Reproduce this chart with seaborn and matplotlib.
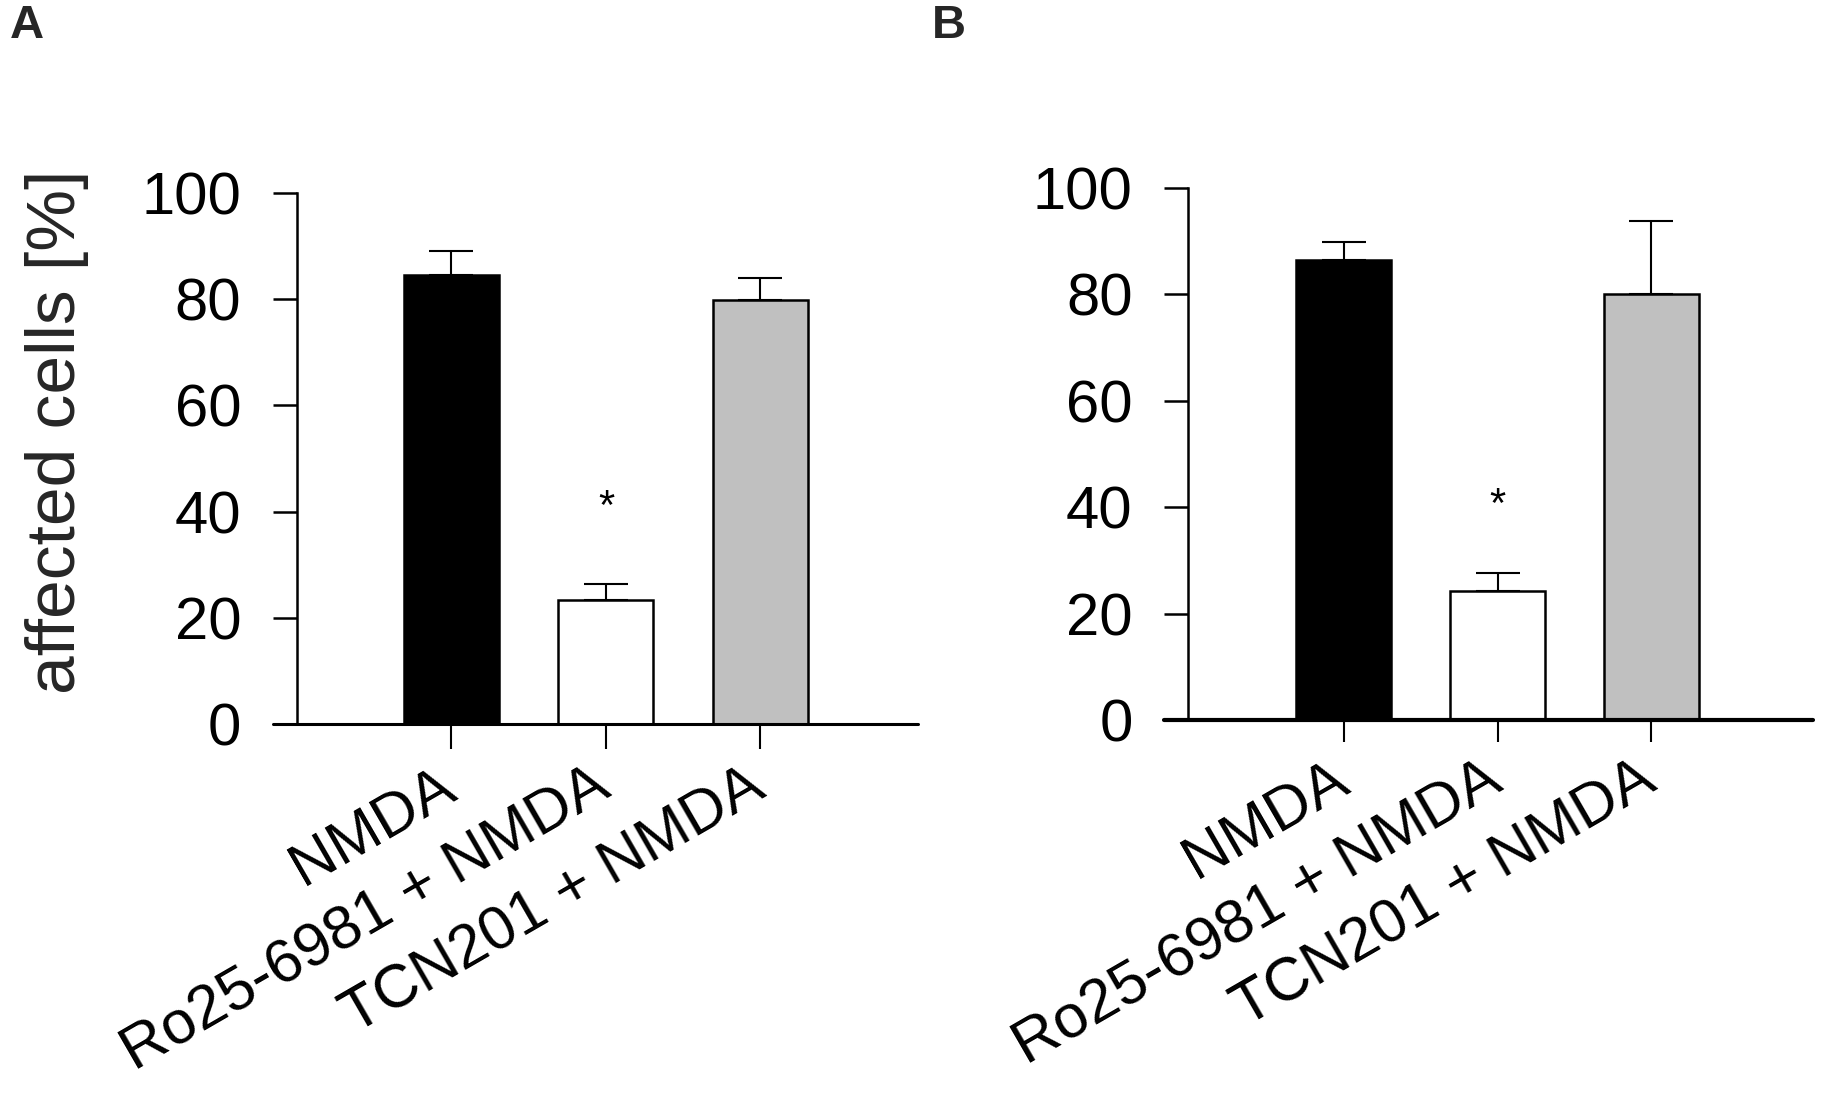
import matplotlib
matplotlib.use("Agg")
import matplotlib.pyplot as plt
import seaborn as sns
import pandas as pd
import numpy as np

# ---- data ----
categories = ["NMDA", "Ro25-6981 + NMDA", "TCN201 + NMDA"]
bar_colors = ["#000000", "#FFFFFF", "#C0C0C0"]

means_a = [84.6, 23.4, 79.9]
sem_a = [4.4, 2.9, 4.0]
star_a = 42.2

means_b = [86.4, 24.2, 80.1]
sem_b = [3.4, 3.5, 13.7]
star_b = 41.8

yticks = [0, 20, 40, 60, 80, 100]

sns.set_theme(style="ticks")
plt.rcParams["font.family"] = ["Liberation Sans", "DejaVu Sans"]

fig = plt.figure(figsize=(18.25, 11.02), dpi=100)
axA = fig.add_axes([0.1627, 0.343, 0.3403, 0.4819])
axB = fig.add_axes([0.651, 0.3466, 0.3425, 0.4828])


def panel(ax, means, errs, star_y, xlim, axis_lw, xtick_len):
    df = pd.DataFrame({"cond": categories, "val": means})
    sns.barplot(data=df, x="cond", y="val", hue="cond", order=categories,
                hue_order=categories, palette=bar_colors, saturation=1,
                width=0.615, edgecolor="black", linewidth=1.8,
                legend=False, errorbar=None, ax=ax)
    ax.errorbar(np.arange(len(categories)), means,
                yerr=[np.zeros(len(errs)), errs], fmt="none",
                ecolor="black", elinewidth=1.5, capsize=16, capthick=1.5,
                zorder=3)
    ax.annotate("*", (1, star_y), xytext=(0, -6), textcoords="offset points",
                ha="center", va="center", fontsize=30, color="black")
    ax.set_xlim(*xlim)
    ax.set_ylim(0, 100)
    ax.set_yticks(yticks)
    ax.set_yticklabels([str(t) for t in yticks])
    ax.set_xticks(np.arange(len(categories)))
    ax.set_xticklabels(categories, rotation=30, ha="right",
                       rotation_mode="anchor", va="center")
    ax.set_xlabel("")
    ax.set_ylabel("")
    for s in ["top", "right", "bottom"]:
        ax.spines[s].set_visible(False)
    ax.spines["left"].set_linewidth(1.8)
    ax.spines["left"].set_color("black")
    ax.axhline(0, xmin=-0.039, xmax=1, color="black", lw=axis_lw,
               clip_on=False, zorder=4)
    ax.tick_params(axis="y", length=17, width=1.8, pad=23, labelsize=43,
                   colors="black")
    ax.tick_params(axis="x", length=xtick_len, width=1.5, pad=24,
                   labelsize=44, colors="black")
    ax.set_facecolor("white")


panel(axA, means_a, sem_a, star_a, (-1.0, 3.02), 2.2, 18)
panel(axB, means_b, sem_b, star_b, (-1.01, 3.05), 3.0, 16)

axA.set_ylabel("affected cells [%]", fontsize=50)
axA.yaxis.set_label_coords(-0.335, 0.55)

fig.text(10 / 1825, 1 - 4 / 1102, "A", fontsize=34, fontweight="bold",
         ha="left", va="top")
fig.text(932 / 1825, 1 - 4 / 1102, "B", fontsize=34, fontweight="bold",
         ha="left", va="top")

fig.savefig("out.png", dpi=100, facecolor="white")
